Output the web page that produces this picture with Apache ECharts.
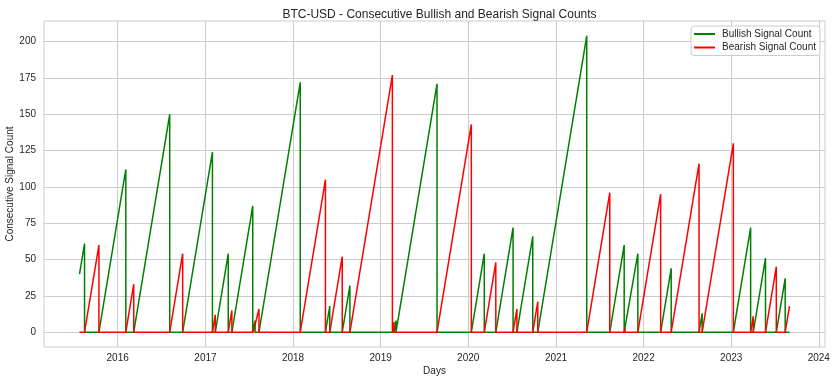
<!DOCTYPE html>
<html>
<head>
<meta charset="utf-8">
<script src="https://cdn.jsdelivr.net/npm/echarts@6/dist/echarts.min.js"></script>
<style>html,body{margin:0;padding:0;background:#fff}#c{width:836px;height:383px}</style>
</head>
<body>
<div id="c"></div>
<script>
const titleText = 'BTC-USD - Consecutive Bullish and Bearish Signal Counts';
const xAxisName = 'Days';
const yAxisName = 'Consecutive Signal Count';
const seriesNames = ['Bullish Signal Count', 'Bearish Signal Count'];
const yTicks = [0, 25, 50, 75, 100, 125, 150, 175, 200];
const xTickYears = [2016, 2017, 2018, 2019, 2020, 2021, 2022, 2023, 2024];

const bullDates = ['2015-07-26','2015-08-16','2015-08-16','2015-10-15','2016-02-04','2016-02-04','2016-03-08','2016-08-05','2016-08-05','2016-09-28','2017-01-30','2017-01-30','2017-02-11','2017-04-06','2017-04-06','2017-04-21','2017-07-17','2017-07-17','2017-07-19','2017-07-27','2017-07-27','2017-08-12','2018-01-31','2018-01-31','2018-05-16','2018-06-03','2018-06-03','2018-07-25','2018-08-26','2018-08-26','2019-02-26','2019-03-06','2019-03-06','2019-08-24','2019-08-24','2020-01-14','2020-03-08','2020-03-08','2020-04-25','2020-07-06','2020-07-06','2020-07-22','2020-09-26','2020-09-26','2020-10-17','2021-05-09','2021-05-09','2021-08-13','2021-10-12','2021-10-12','2021-10-15','2021-12-08','2021-12-08','2022-03-13','2022-04-26','2022-04-26','2022-08-20','2022-09-02','2022-09-02','2023-01-10','2023-03-23','2023-03-23','2023-04-03','2023-05-24','2023-05-24','2023-07-08','2023-08-14','2023-08-14','2023-09-01'];
const bullValues = [40,61,0,0,112,0,0,150,0,0,124,0,0,54,0,0,87,0,0,8,0,0,172,0,0,18,0,0,32,0,0,8,0,171,0,0,54,0,0,72,0,0,66,0,0,204,0,0,60,0,0,54,0,0,44,0,0,13,0,0,72,0,0,51,0,0,37,0,0];

const bearDates = ['2015-07-26','2015-08-16','2015-10-15','2015-10-15','2016-02-04','2016-03-08','2016-03-08','2016-08-05','2016-09-28','2016-09-28','2017-01-30','2017-02-11','2017-02-11','2017-04-06','2017-04-21','2017-04-21','2017-07-17','2017-07-19','2017-07-19','2017-07-27','2017-08-12','2017-08-12','2018-01-31','2018-05-16','2018-05-16','2018-06-03','2018-07-25','2018-07-25','2018-08-26','2019-02-19','2019-02-19','2019-02-26','2019-02-26','2019-08-24','2020-01-14','2020-01-14','2020-03-08','2020-04-25','2020-04-25','2020-07-06','2020-07-22','2020-07-22','2020-09-26','2020-10-17','2020-10-17','2021-05-09','2021-08-13','2021-08-13','2021-10-12','2021-10-15','2021-10-15','2021-12-08','2022-03-13','2022-03-13','2022-04-26','2022-08-20','2022-08-20','2022-09-02','2023-01-10','2023-01-10','2023-03-23','2023-04-03','2023-04-03','2023-05-24','2023-07-08','2023-07-08','2023-08-14','2023-09-01'];
const bearValues = [0,0,60,0,0,33,0,0,54,0,0,12,0,0,15,0,0,2,0,0,16,0,0,105,0,0,52,0,0,177,0,7,0,0,143,0,0,48,0,0,16,0,0,21,0,0,96,0,0,3,0,0,95,0,0,116,0,0,130,0,0,11,0,0,45,0,0,18];

function ts(s) { const p = s.split('-').map(Number); return Date.UTC(p[0], p[1] - 1, p[2]); }
function pairs(dates, vals) { return dates.map((d, i) => [ts(d), vals[i]]); }

const bull = pairs(bullDates, bullValues);
const bear = pairs(bearDates, bearValues);
const allX = bull.concat(bear).map(p => p[0]);
const xMinData = Math.min(...allX), xMaxData = Math.max(...allX);
const xPad = (xMaxData - xMinData) * 0.05;
const yMaxData = Math.max(...bullValues, ...bearValues);
const yPad = yMaxData * 0.05;
const xTickVals = xTickYears.map(y => Date.UTC(y, 0, 1));

const txt = '#262626';
const grid = '#cccccc';
const font = 'Liberation Sans, Arial, sans-serif';
const fs = 10;

const chart = echarts.init(document.getElementById('c'), null, {renderer: 'canvas'});
chart.setOption({
  animation: false,
  backgroundColor: '#ffffff',
  textStyle: {fontFamily: font},
  title: {
    text: titleText, left: 434.5, textAlign: 'center', top: 4,
    textStyle: {fontSize: 12, fontWeight: 'normal', color: txt, fontFamily: font}
  },
  legend: {
    orient: 'vertical', right: 16, top: 26,
    data: seriesNames,
    icon: 'rect', itemWidth: 21, itemHeight: 2, itemGap: 1.5,
    backgroundColor: 'rgba(255,255,255,0.8)', borderColor: grid, borderWidth: 1, borderRadius: 3,
    padding: [2, 4, 2, 3],
    textStyle: {fontSize: fs, color: txt, fontFamily: font, lineHeight: 12, padding: [0, 0, 0, 2]}
  },
  grid: {left: 44, right: 11, top: 21, bottom: 36, show: true, borderColor: grid, borderWidth: 1,
    containLabel: false, outerBoundsMode: 'none'},
  xAxis: {
    type: 'value', min: xMinData - xPad, max: xMaxData + xPad,
    name: xAxisName, nameLocation: 'middle', nameGap: 19, nameMoveOverlap: false,
    nameTextStyle: {fontSize: fs, color: txt, fontFamily: font},
    axisLine: {show: false}, axisTick: {show: false, customValues: xTickVals},
    axisLabel: {customValues: xTickVals, fontSize: fs, color: txt, margin: 6, fontFamily: font,
      formatter: v => String(new Date(v).getUTCFullYear())},
    splitLine: {show: true, lineStyle: {color: grid, width: 1}}
  },
  yAxis: {
    type: 'value', min: -yPad, max: yMaxData + yPad,
    name: yAxisName, nameLocation: 'middle', nameGap: 29, nameRotate: 90, nameMoveOverlap: false,
    nameTextStyle: {fontSize: fs, color: txt, fontFamily: font},
    axisLine: {show: false}, axisTick: {show: false, customValues: yTicks},
    axisLabel: {customValues: yTicks, fontSize: fs, color: txt, margin: 8, fontFamily: font},
    splitLine: {show: true, lineStyle: {color: grid, width: 1}}
  },
  series: [
    {name: seriesNames[0], type: 'line', data: bull, showSymbol: false, symbol: 'none',
      lineStyle: {color: '#008000', width: 1.5}, itemStyle: {color: '#008000'}},
    {name: seriesNames[1], type: 'line', data: bear, showSymbol: false, symbol: 'none',
      lineStyle: {color: '#ff0000', width: 1.5}, itemStyle: {color: '#ff0000'}}
  ]
});
</script>
</body>
</html>
